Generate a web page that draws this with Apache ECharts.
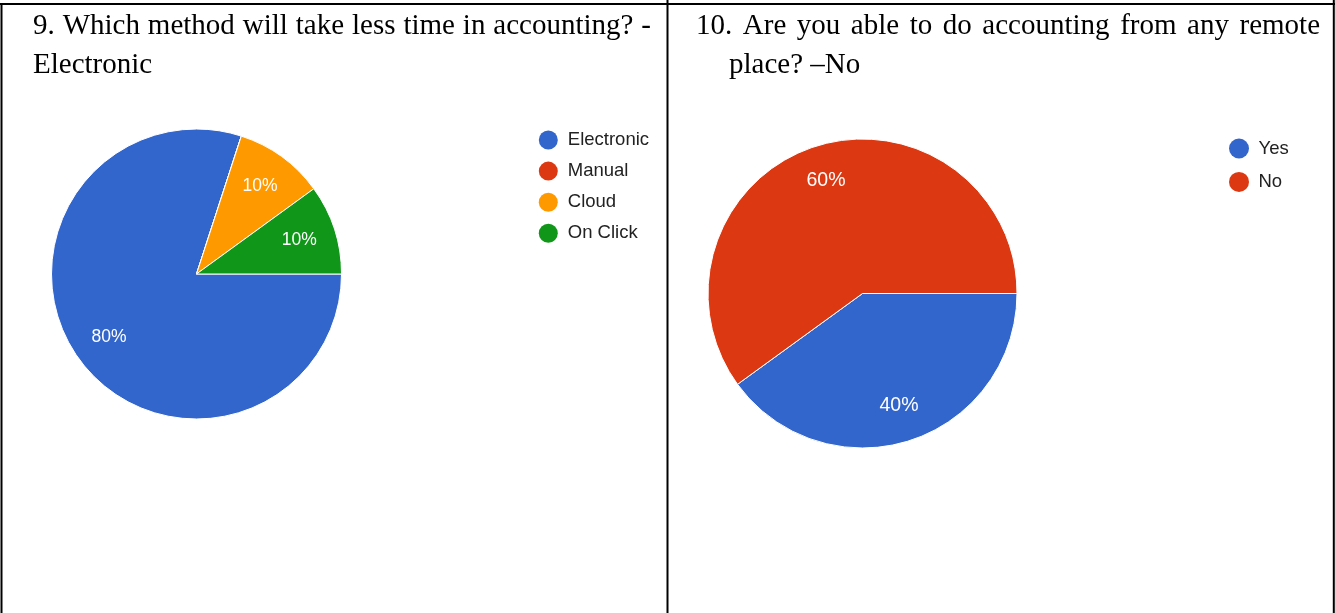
<!DOCTYPE html>
<html>
<head>
<meta charset="utf-8">
<script src="https://cdn.jsdelivr.net/npm/echarts@6/dist/echarts.min.js"></script>
<style>
html, body { margin: 0; padding: 0; background: #fff; }
#chart { width: 1335px; height: 613px; }
</style>
</head>
<body>
<div id="chart"></div>
<script>
// Survey answers (percent of respondents)
const methodNames = ['Electronic', 'Manual', 'Cloud', 'On Click'];
const methodShares = [80, 0, 10, 10];
const remoteNames = ['Yes', 'No'];
const remoteShares = [40, 60];

// Question captions, one entry per printed line
const question9Lines = ['9. Which method will take less time in accounting? -', 'Electronic'];
const question10Lines = ['10. Are you able to do accounting from any remote', 'place? \u2013No'];

const palette = ['#3366cc', '#dc3912', '#ff9900', '#109618'];
const serifFont = '29px "Liberation Serif", "Times New Roman", serif';
const sansFamily = '"Liberation Sans", Arial, sans-serif';

const measureCtx = document.createElement('canvas').getContext('2d');

// Lay out one caption line with its word gaps stretched between x0 and x1
function justifiedLine(text, x0, x1, y) {
  measureCtx.font = serifFont;
  const words = text.split(' ');
  const widths = words.map(w => measureCtx.measureText(w).width);
  const total = widths.reduce((a, b) => a + b, 0);
  const gap = words.length > 1 ? (x1 - x0 - total) / (words.length - 1) : 0;
  let x = x0;
  return words.map((w, i) => {
    const el = {
      type: 'text', x: x, y: y, silent: true,
      style: { text: w, font: serifFont, fill: '#000', verticalAlign: 'middle', align: 'left' }
    };
    x += widths[i] + gap;
    return el;
  });
}

function plainLine(text, x, y) {
  return {
    type: 'text', x: x, y: y, silent: true,
    style: { text: text, font: serifFont, fill: '#000', verticalAlign: 'middle', align: 'left' }
  };
}

// Table rules around the two answer cells
function rule(x1, y1, x2, y2) {
  return { type: 'line', silent: true, shape: { x1, y1, x2, y2 }, style: { stroke: '#000', lineWidth: 2 } };
}

function toData(names, values) {
  return names.map((n, i) => ({ name: n, value: values[i] }));
}

// Filled sectors of a pie
function sliceSeries(names, values, center, radius) {
  return {
    type: 'pie',
    center: center,
    radius: [0, radius],
    startAngle: 0,
    clockwise: true,
    silent: true,
    avoidLabelOverlap: false,
    label: { show: false },
    labelLine: { show: false },
    itemStyle: { borderColor: '#fff', borderWidth: 1 },
    emphasis: { disabled: true },
    data: toData(names, values)
  };
}

// Percent labels sitting in the outer part of each sector
function labelSeries(names, values, center, innerRadius, radius, fontSize) {
  return {
    type: 'pie',
    center: center,
    radius: [innerRadius, radius],
    startAngle: 0,
    clockwise: true,
    silent: true,
    avoidLabelOverlap: false,
    itemStyle: { color: 'rgba(0,0,0,0)', borderWidth: 0 },
    label: {
      show: true,
      position: 'inside',
      color: '#fff',
      fontFamily: sansFamily,
      fontSize: fontSize,
      formatter: p => (p.value ? p.value + '%' : '')
    },
    labelLine: { show: false },
    emphasis: { disabled: true },
    data: toData(names, values)
  };
}

const textY1 = 26;
const textY2 = 65;

const graphics = [
  rule(0, 4, 1335, 4),
  rule(1.5, 4, 1.5, 613),
  rule(667.5, 0, 667.5, 613),
  rule(1333.8, 0, 1333.8, 613),
  ...justifiedLine(question9Lines[0], 33, 651, textY1),
  plainLine(question9Lines[1], 33, textY2),
  ...justifiedLine(question10Lines[0], 696, 1320, textY1 + 0.6),
  plainLine(question10Lines[1], 729, textY2)
];

const chart = echarts.init(document.getElementById('chart'), null, { renderer: 'canvas' });

chart.setOption({
  animation: false,
  color: palette,
  legend: [
    {
      data: methodNames,
      orient: 'vertical',
      left: 538.8,
      top: 130.5,
      padding: 0,
      itemWidth: 29,
      itemHeight: 19,
      itemGap: 12.1,
      icon: 'circle',
      selectedMode: false,
      itemStyle: { borderWidth: 0 },
      textStyle: { fontFamily: sansFamily, fontSize: 18.5, color: '#222', lineHeight: 19 }
    },
    {
      data: remoteNames,
      orient: 'vertical',
      left: 1229,
      top: 138.5,
      padding: 0,
      itemWidth: 29,
      itemHeight: 20,
      itemGap: 13.4,
      icon: 'circle',
      selectedMode: false,
      itemStyle: { borderWidth: 0 },
      textStyle: { fontFamily: sansFamily, fontSize: 18.5, color: '#222', lineHeight: 20 }
    }
  ],
  series: [
    sliceSeries(methodNames, methodShares, [196.5, 274], 145),
    sliceSeries(remoteNames, remoteShares, [862.5, 293.5], 154.5),
    labelSeries(methodNames, methodShares, [196.5, 274], 65, 145, 17.5),
    labelSeries(remoteNames, remoteShares, [862.5, 293.5], 76, 154.5, 19.5)
  ],
  graphic: graphics
});
</script>
</body>
</html>
